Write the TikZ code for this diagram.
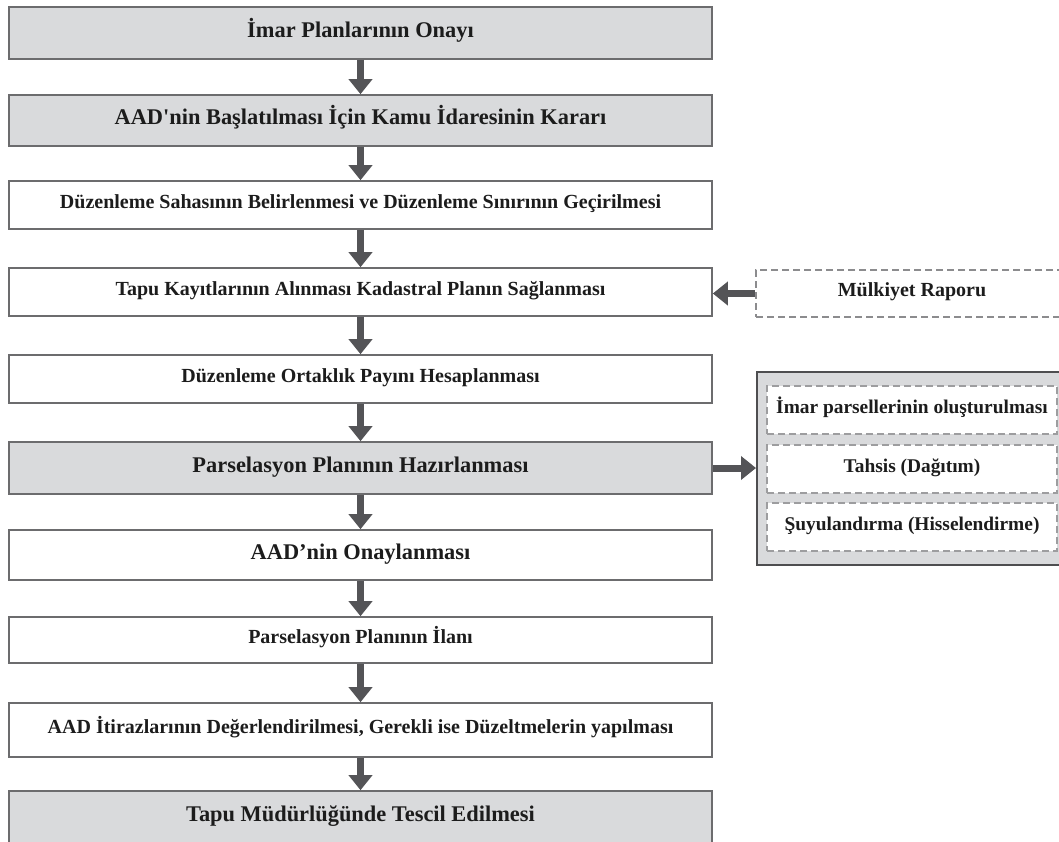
\documentclass[tikz,border=0pt]{standalone}
\usepackage{fontspec}
\setmainfont{Liberation Serif}[Ligatures=TeXOff]
\usetikzlibrary{arrows.meta}

\definecolor{boxline}{RGB}{108,108,110}
\definecolor{boxfill}{RGB}{217,218,220}
\definecolor{arrowcol}{RGB}{84,84,87}
\definecolor{dashcol}{RGB}{140,140,142}
\definecolor{frame}{RGB}{78,78,80}
\definecolor{txt}{RGB}{28,28,28}

\tikzset{
  stage/.style={draw=boxline, line width=1.6pt, minimum width=703pt, inner sep=0pt,
    text=txt, font=\bfseries\fontsize{20}{24}\selectfont, text height=10pt, text depth=4pt},
  major/.style={stage, fill=boxfill, font=\bfseries\fontsize{22.4}{26}\selectfont,
    text height=12pt, text depth=4pt},
  flow/.style={draw=arrowcol, line width=7pt, -{Triangle[width=23pt,length=15pt]}},
  report/.style={draw=dashcol, line width=1.3pt, dash pattern=on 7pt off 4pt, inner sep=0pt,
    text=txt, font=\bfseries\fontsize{20}{24}\selectfont, text height=10pt, text depth=4pt},
  group/.style={draw=frame, fill=boxfill, line width=2pt, inner sep=0pt},
  task/.style={report, fill=white, draw=dashcol!85, font=\bfseries\fontsize{19.4}{23}\selectfont,
    minimum width=290pt, minimum height=48pt}
}

\begin{document}
\begin{tikzpicture}[x=1pt, y=-1pt]
  \clip (0,0) rectangle (1059,841);
  \useasboundingbox (0,0) rectangle (1059,841);

  % main sequence of stages
  \node[major, minimum height=52pt] (b1) at (360.5,33) {İmar Planlarının Onayı};
  \node[major, minimum height=51pt] (b2) at (360.5,120.5) {AAD'nin Başlatılması İçin Kamu İdaresinin Kararı};
  \node[stage, minimum height=48pt] (b3) at (360.5,205) {Düzenleme Sahasının Belirlenmesi ve Düzenleme Sınırının Geçirilmesi};
  \node[stage, minimum height=48pt] (b4) at (360.5,292) {Tapu Kayıtlarının Alınması Kadastral Planın Sağlanması};
  \node[stage, minimum height=48pt] (b5) at (360.5,379) {Düzenleme Ortaklık Payını Hesaplanması};
  \node[major, minimum height=52pt] (b6) at (360.5,468) {Parselasyon Planının Hazırlanması};
  \node[stage, minimum height=50pt, font=\bfseries\fontsize{22.4}{26}\selectfont, text height=12pt] (b7) at (360.5,555) {AAD’nin Onaylanması};
  \node[stage, minimum height=46pt] (b8) at (360.5,640) {Parselasyon Planının İlanı};
  \node[stage, minimum height=54pt] (b9) at (360.5,730) {AAD İtirazlarının Değerlendirilmesi, Gerekli ise Düzeltmelerin yapılması};
  \node[major, minimum height=52pt] (b10) at (360.5,817) {Tapu Müdürlüğünde Tescil Edilmesi};

  % side input
  \node[report, minimum width=312pt, minimum height=47pt] (mulk) at (912,293.5) {Mülkiyet Raporu};

  % parcelling sub-steps
  \node[group, minimum width=310pt, minimum height=193pt] (grp) at (912,468.5) {};
  \node[task] (t1) at (912,410) {İmar parsellerinin oluşturulması};
  \node[task] (t2) at (912,469) {Tahsis (Dağıtım)};
  \node[task] (t3) at (912,527) {Şuyulandırma (Hisselendirme)};

  % connectors
  \foreach \a/\b in {b1/b2, b2/b3, b3/b4, b4/b5, b5/b6, b6/b7, b7/b8, b8/b9, b9/b10}
    \draw[flow] (\a.south) -- (\b.north);
  \draw[flow] (mulk.west) -- (mulk.west -| b4.east);
  \draw[flow] (b6.east) -- (b6.east -| grp.west);
\end{tikzpicture}
\end{document}
